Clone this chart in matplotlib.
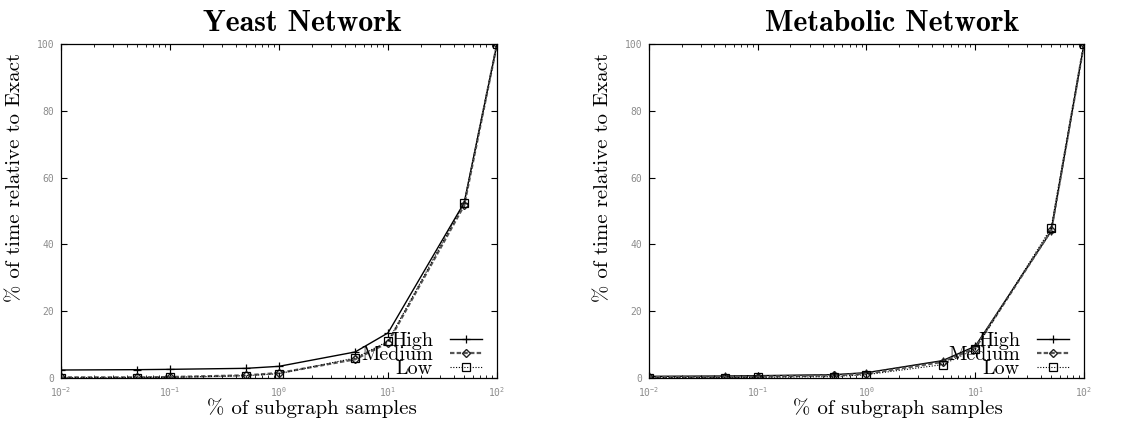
import numpy as np
import matplotlib
matplotlib.use("Agg")
import matplotlib.pyplot as plt
from matplotlib.ticker import FixedLocator, LogLocator, FuncFormatter, NullFormatter

# sample percentages (x) and time relative to exact (y)
samples = [0.01, 0.05, 0.1, 0.5, 1, 5, 10, 50, 100]

yeast_high = [2.4, 2.5, 2.6, 2.9, 3.5, 7.8, 13.5, 52.5, 100]
yeast_medium = [0.2, 0.2, 0.3, 0.8, 1.5, 5.6, 10.6, 51.7, 100]
yeast_low = [0.1, 0.1, 0.2, 0.7, 1.3, 6.0, 11.0, 52.4, 100]

metab_high = [0.5, 0.6, 0.7, 1.0, 1.6, 5.2, 9.5, 44.0, 100]
metab_medium = [0.3, 0.3, 0.4, 0.8, 1.3, 4.8, 9.0, 44.2, 100]
metab_low = [0.1, 0.1, 0.2, 0.4, 1.0, 4.0, 8.6, 45.0, 100]

titles = ["Yeast Network", "Metabolic Network"]
series_names = ["High", "Medium", "Low"]
y_ticks = [0, 20, 40, 60, 80, 100]
x_ticks = [0.01, 0.1, 1, 10, 100]

tick_color = "#8c8c8c"
serif = "cmr10"


def tick_fmt(v, pos):
    e = int(round(np.log10(v)))
    return r"$\mathregular{10^{%d}}$" % e


fig = plt.figure(figsize=(11.42, 4.21), dpi=100)
positions = [[0.0534, 0.1021, 0.3818, 0.7934],
             [0.5683, 0.1021, 0.3809, 0.7934]]
data = [(yeast_high, yeast_medium, yeast_low),
        (metab_high, metab_medium, metab_low)]
title_x = [0.553, 0.559]
xlab_x = [0.576, 0.572]

for i in range(2):
    ax = fig.add_axes(positions[i])
    high, medium, low = data[i]
    ax.plot(samples, high, color="black", lw=1.0, ls="-", marker="+",
            ms=6, mew=0.9, label=series_names[0])
    ax.plot(samples, medium, color="#555555", lw=1.6, ls=(0, (2, 1)),
            marker="D", ms=4, mfc="none", mec="#222222", mew=1.0,
            label=series_names[1])
    ax.plot(samples, low, color="black", lw=0.8, ls=(0, (1, 1.5)),
            marker="s", ms=5.5, mfc="none", mec="black", mew=0.9,
            label=series_names[2])

    ax.set_xscale("log")
    ax.set_xlim(0.01, 100)
    ax.set_ylim(0, 100)
    ax.xaxis.set_major_locator(FixedLocator(x_ticks))
    ax.xaxis.set_major_formatter(FuncFormatter(tick_fmt))
    ax.xaxis.set_minor_locator(LogLocator(base=10, subs=np.arange(2, 10)))
    ax.xaxis.set_minor_formatter(NullFormatter())
    ax.yaxis.set_major_locator(FixedLocator(y_ticks))

    ax.tick_params(which="both", direction="in", top=True, right=True,
                   color="black", labelcolor=tick_color)
    ax.tick_params(which="major", length=4.5, width=0.8)
    ax.tick_params(which="minor", length=2.5, width=0.6)
    ax.tick_params(axis="y", pad=5)
    ax.tick_params(axis="x", pad=5)
    for lab in ax.get_xticklabels() + ax.get_yticklabels():
        lab.set_fontfamily("DejaVu Sans Mono")
        lab.set_fontsize(7)
    for sp in ax.spines.values():
        sp.set_linewidth(0.9)

    ax.set_title(titles[i], fontfamily="cmb10", fontsize=21.5,
                 x=title_x[i], y=1.015)
    ax.set_xlabel("% of subgraph samples", fontfamily=serif, fontsize=15)
    ax.set_ylabel("% of time relative to Exact", fontfamily=serif,
                  fontsize=15)
    ax.xaxis.set_label_coords(xlab_x[i], -0.062)
    ax.yaxis.set_label_coords(-0.085, 0.60)

    leg = ax.legend(loc="lower right", bbox_to_anchor=(0.966, 0.0),
                    frameon=False, markerfirst=False, handlelength=1.6,
                    handletextpad=0.85, borderpad=0, borderaxespad=0,
                    labelspacing=-0.2, numpoints=1,
                    prop={"family": serif, "size": 14.5})
    for t in leg.get_texts():
        t.set_ha("right")

fig.savefig("out.png", dpi=100)
